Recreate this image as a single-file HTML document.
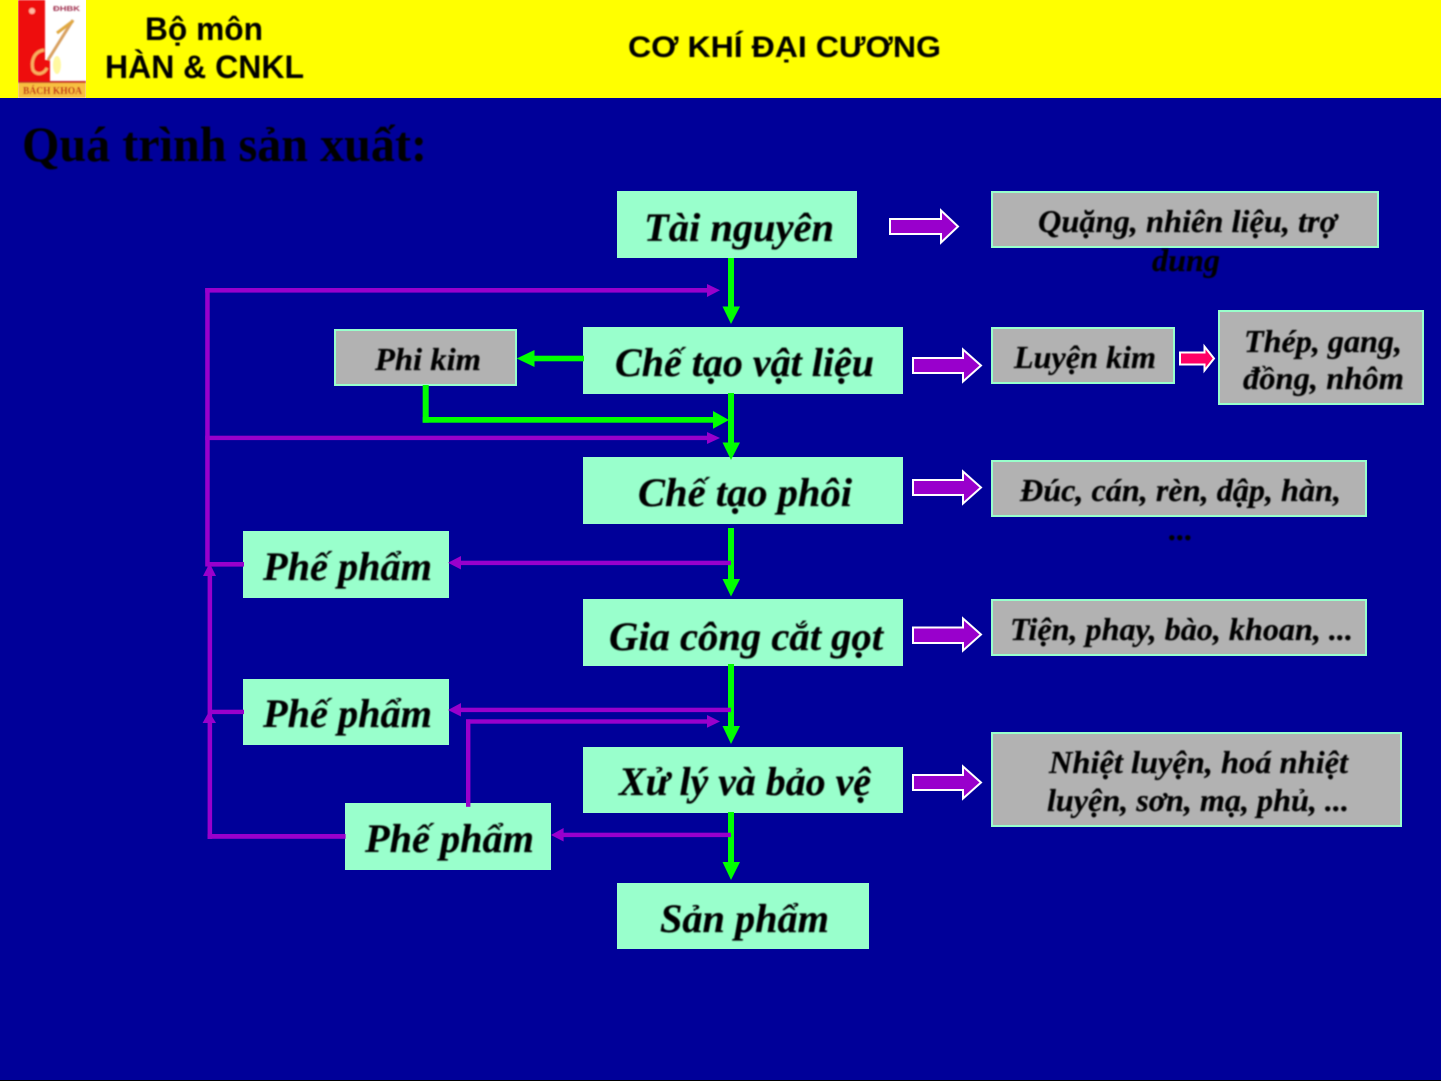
<!DOCTYPE html>
<html lang="vi">
<head>
<meta charset="utf-8">
<title>Quá trình sản xuất</title>
<style>
html,body{margin:0;padding:0;background:#000099;width:1441px;height:1081px;overflow:hidden}
svg{display:block}
.t text{font-family:"Liberation Serif",serif;font-weight:bold;font-style:italic;fill:#000;stroke:#000;stroke-width:.2px}
.t{filter:url(#b)}
.h{font-family:"Liberation Sans",sans-serif;font-weight:bold;fill:#000;filter:url(#b)}
.q{font-family:"Liberation Serif",serif;font-weight:bold;fill:#000;filter:url(#b)}
</style>
</head>
<body>
<svg width="1441" height="1081" viewBox="0 0 1441 1081" xmlns="http://www.w3.org/2000/svg">
<defs>
<filter id="b" filterUnits="userSpaceOnUse" x="0" y="0" width="1441" height="1081"><feGaussianBlur stdDeviation="0.8"/></filter>
<filter id="lb" filterUnits="userSpaceOnUse" x="18" y="0" width="68" height="98"><feGaussianBlur stdDeviation="0.7"/></filter>
</defs>
<rect width="1441" height="1081" fill="#000099"/>
<rect y="1080" width="1441" height="1" fill="#000"/>
<rect width="1441" height="98" fill="#FFFF00"/>

<!-- logo -->
<rect x="18" y="0" width="68" height="98" fill="#fff"/>
<g filter="url(#lb)">
<rect x="18" y="0" width="27" height="98" fill="#EE1010"/>
<rect x="45" y="60" width="5" height="22" fill="#EE1010"/>
<rect x="18" y="82" width="68" height="16" fill="#F8C040"/>
<rect x="18" y="81" width="68" height="2" fill="#C82020"/>
<circle cx="32" cy="11" r="3" fill="#FFB8A0"/>
<path d="M48 60 L73 20" stroke="#D8A060" stroke-width="3" fill="none"/>
<path d="M57 33 L73 21" stroke="#E0A840" stroke-width="3" fill="none"/>
<path d="M44 50 C33 52 31 62 33 70 C37 76 44 74 47 68" stroke="#F8B060" stroke-width="3" fill="none"/>
<ellipse cx="57" cy="65" rx="4" ry="9" fill="#FFF8A0"/>
<text x="53" y="11" font-family="Liberation Sans,sans-serif" font-size="7" font-weight="bold" fill="#A03050" textLength="27" lengthAdjust="spacingAndGlyphs">ĐHBK</text>
<text x="23" y="94" font-family="Liberation Serif,serif" font-size="10" font-weight="bold" fill="#C01010" textLength="59" lengthAdjust="spacingAndGlyphs">BÁCH KHOA</text>
</g>

<text class="h" x="145" y="40" font-size="32" textLength="118" lengthAdjust="spacingAndGlyphs">Bộ môn</text>
<text class="h" x="105" y="78" font-size="32" textLength="199" lengthAdjust="spacingAndGlyphs">HÀN &amp; CNKL</text>
<text class="h" x="628" y="57" font-size="30" textLength="313" lengthAdjust="spacingAndGlyphs">CƠ KHÍ ĐẠI CƯƠNG</text>
<text class="q" x="22" y="161" font-size="50" textLength="405" lengthAdjust="spacingAndGlyphs">Quá trình sản xuất:</text>

<!-- mint boxes -->
<g fill="#99FFCC">
<rect x="617" y="191" width="240" height="67"/>
<rect x="583" y="327" width="320" height="67"/>
<rect x="583" y="457" width="320" height="67"/>
<rect x="583" y="599" width="320" height="67"/>
<rect x="583" y="747" width="320" height="66"/>
<rect x="617" y="883" width="252" height="66"/>
<rect x="243" y="531" width="206" height="67"/>
<rect x="243" y="679" width="206" height="66"/>
<rect x="345" y="803" width="206" height="67"/>
</g>
<!-- grey boxes -->
<g fill="#B2B2B2" stroke="#99FFCC" stroke-width="2">
<rect x="335" y="330" width="181" height="55"/>
<rect x="992" y="192" width="386" height="55"/>
<rect x="992" y="328" width="182" height="55"/>
<rect x="1219" y="311" width="204" height="93"/>
<rect x="992" y="461" width="374" height="55"/>
<rect x="992" y="600" width="374" height="55"/>
<rect x="992" y="733" width="409" height="93"/>
</g>

<!-- green connectors -->
<g fill="#00FF00">
<rect x="728" y="258" width="6" height="49"/><polygon points="722.5,306.5 740,306.5 731,324"/>
<rect x="728" y="393" width="6" height="50"/><polygon points="722.5,442.5 740,442.5 731,460"/>
<rect x="728" y="528" width="6" height="52"/><polygon points="722.5,579 740,579 731,596.5"/>
<rect x="728" y="664" width="6" height="63"/><polygon points="722.5,726 740,726 731,744"/>
<rect x="728" y="812" width="6" height="51"/><polygon points="722.5,862 740,862 731,880"/>
<rect x="533" y="355.7" width="51" height="5.6"/><polygon points="534.5,350 534.5,367 516.7,358.5"/>
<rect x="422.7" y="385" width="6" height="37.7"/><rect x="422.7" y="417" width="291" height="5.7"/>
<polygon points="713,411 713,428.7 729,420"/>
</g>

<!-- purple connectors -->
<g fill="#9900CC">
<rect x="205.2" y="288" width="4.5" height="278.5"/>
<rect x="205.2" y="288" width="503" height="4.6"/><polygon points="707,284 707,297 720,290.3"/>
<rect x="205.2" y="435.7" width="503" height="4.4"/><polygon points="707,432 707,444 720,438"/>
<rect x="207" y="562" width="37" height="4.6"/>
<polygon points="203,576 216,576 209.6,563"/>
<rect x="207.6" y="575" width="4.5" height="264"/>
<rect x="207.6" y="834" width="138" height="4.8"/>
<rect x="209" y="709.7" width="35" height="4.4"/>
<polygon points="202.6,723 216,723 209,711.5"/>
<rect x="460" y="560.7" width="271" height="4.4"/><polygon points="461,556 461,569.5 448,562.8"/>
<rect x="460" y="707.7" width="271" height="4.4"/><polygon points="461,703 461,716.5 448,710"/>
<rect x="466" y="719.3" width="242" height="4.4"/><polygon points="707,715 707,727.7 720,721.5"/>
<rect x="466" y="719.3" width="4.4" height="87.5"/>
<rect x="563" y="832.7" width="168" height="4.4"/><polygon points="563.6,828 563.6,841.5 551,835"/>
</g>

<!-- block arrows -->
<g fill="#9900CC" stroke="#fff" stroke-width="2">
<polygon points="890,219 941,219 941,210.5 958,226.5 941,242.5 941,234 890,234"/>
<polygon points="913,358 963,358 963,349.5 981,365.5 963,381.5 963,373 913,373"/>
<polygon points="913,480 963,480 963,471.5 981,487.5 963,503.5 963,495 913,495"/>
<polygon points="913,627.5 963,627.5 963,618.5 981,634.5 963,650.5 963,643 913,643"/>
<polygon points="913,775 963,775 963,766.5 981,782.5 963,798.5 963,790 913,790"/>
</g>
<polygon points="1180,352.5 1204.5,352.5 1204.5,346.5 1214,358.5 1204.5,370.5 1204.5,364.5 1180,364.5" fill="#FF0066" stroke="#fff" stroke-width="2"/>

<!-- labels -->
<g class="t" font-size="40">
<text x="644" y="241" textLength="190" lengthAdjust="spacingAndGlyphs">Tài nguyên</text>
<text x="615" y="376" textLength="259" lengthAdjust="spacingAndGlyphs">Chế tạo vật liệu</text>
<text x="638" y="506" textLength="214" lengthAdjust="spacingAndGlyphs">Chế tạo phôi</text>
<text x="609" y="650" textLength="274" lengthAdjust="spacingAndGlyphs">Gia công cắt gọt</text>
<text x="619" y="795" textLength="252" lengthAdjust="spacingAndGlyphs">Xử lý và bảo vệ</text>
<text x="660" y="932" textLength="169" lengthAdjust="spacingAndGlyphs">Sản phẩm</text>
<text x="263" y="580" textLength="169" lengthAdjust="spacingAndGlyphs">Phế phẩm</text>
<text x="263" y="727" textLength="169" lengthAdjust="spacingAndGlyphs">Phế phẩm</text>
<text x="365" y="852" textLength="169" lengthAdjust="spacingAndGlyphs">Phế phẩm</text>
</g>
<g class="t" font-size="32">
<text x="375" y="370" textLength="106" lengthAdjust="spacingAndGlyphs">Phi kim</text>
<text x="1038" y="232" textLength="299" lengthAdjust="spacingAndGlyphs">Quặng, nhiên liệu, trợ</text>
<text x="1152" y="271" textLength="68" lengthAdjust="spacingAndGlyphs">dung</text>
<text x="1014" y="368" textLength="142" lengthAdjust="spacingAndGlyphs">Luyện kim</text>
<text x="1244" y="352" textLength="158" lengthAdjust="spacingAndGlyphs">Thép, gang,</text>
<text x="1243" y="389" textLength="161" lengthAdjust="spacingAndGlyphs">đồng, nhôm</text>
<text x="1020" y="501" textLength="321" lengthAdjust="spacingAndGlyphs">Đúc, cán, rèn, dập, hàn,</text>
<text x="1169" y="540" textLength="24" lengthAdjust="spacingAndGlyphs">...</text>
<text x="1010" y="640" textLength="343" lengthAdjust="spacingAndGlyphs">Tiện, phay, bào, khoan, ...</text>
<text x="1049" y="773" textLength="299" lengthAdjust="spacingAndGlyphs">Nhiệt luyện, hoá nhiệt</text>
<text x="1047" y="811" textLength="302" lengthAdjust="spacingAndGlyphs">luyện, sơn, mạ, phủ, ...</text>
</g>
</svg>
</body>
</html>
